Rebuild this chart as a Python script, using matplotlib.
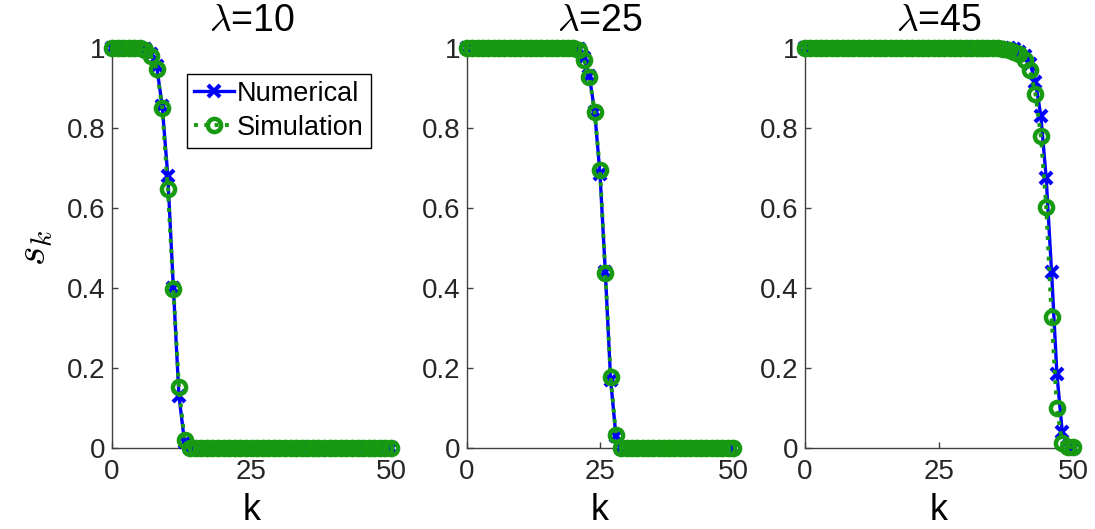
import numpy as np
import matplotlib
matplotlib.use('Agg')
import matplotlib.pyplot as plt

plt.rcParams['font.family'] = ['Liberation Sans', 'DejaVu Sans']
plt.rcParams['mathtext.fontset'] = 'cm'

# data
k = list(range(51))
lambdas = [10, 25, 45]

num_10 = [1.0] * 6 + [0.998, 0.985, 0.955, 0.855, 0.68, 0.40, 0.13, 0.015] + [0.0] * 37
sim_10 = [1.0] * 6 + [0.995, 0.98, 0.948, 0.85, 0.648, 0.398, 0.152, 0.02] + [0.0] * 37

num_25 = [1.0] * 21 + [0.997, 0.975, 0.93, 0.84, 0.685, 0.44, 0.17, 0.03] + [0.0] * 22
sim_25 = [1.0] * 21 + [0.995, 0.97, 0.928, 0.839, 0.695, 0.437, 0.178, 0.033] + [0.0] * 22

num_45 = [1.0] * 39 + [0.998, 0.99, 0.98, 0.96, 0.916, 0.83, 0.675, 0.44, 0.184, 0.04, 0.003, 0.0]
sim_45 = [1.0] * 37 + [0.998, 0.995, 0.99, 0.985, 0.97, 0.945, 0.884, 0.78, 0.603, 0.328,
                       0.099, 0.012, 0.003, 0.002]

numerical = [num_10, num_25, num_45]
simulation = [sim_10, sim_25, sim_45]

xticks = [0, 25, 50]
yticks = [0, 0.2, 0.4, 0.6, 0.8, 1.0]
ytick_labels = ['0', '0.2', '0.4', '0.6', '0.8', '1']

W, H = 1095, 529
fig = plt.figure(figsize=(W / 100, H / 100), dpi=100)

# axes boxes in pixels (left, right)
boxes = [(112, 391), (467, 733), (805, 1073)]
top_px, bot_px = 48, 448

blue = '#0000ff'
green = '#179a12'
axcol = '#404040'

for i, (l, r) in enumerate(boxes):
    ax = fig.add_axes([l / W, 1 - bot_px / H, (r - l) / W, (bot_px - top_px) / H])
    ax.plot(k, numerical[i], '-x', color=blue, lw=2.4, ms=8.5, mew=3, label='Numerical',
            clip_on=False, zorder=3)
    ax.plot(k, simulation[i], ':o', color=green, lw=2.8, ms=9.5, mew=3.2, mfc='none',
            label='Simulation', clip_on=False, zorder=4)
    ax.set_xlim(0, 50)
    ax.set_ylim(0, 1)
    ax.set_xticks(xticks)
    ax.set_yticks(yticks)
    ax.set_yticklabels(ytick_labels)
    for s in ['top', 'right']:
        ax.spines[s].set_visible(False)
    for s in ['left', 'bottom']:
        ax.spines[s].set_color(axcol)
        ax.spines[s].set_linewidth(1.0)
    ax.tick_params(direction='in', length=4, width=1, color=axcol, labelsize=20,
                   labelcolor='#262626')
    ax.tick_params(axis='x', pad=8)
    ax.tick_params(axis='y', pad=5)
    ax.set_xlabel('k', fontsize=26, labelpad=6, color='#000000')
    ax.set_title(r'$\lambda$=' + str(lambdas[i]), fontsize=27, pad=12)
    if i == 0:
        ax.set_ylabel(r'$s_k$', fontsize=30, labelpad=8)
        leg = ax.legend(loc='upper left', bbox_to_anchor=(0.269, 0.935), borderaxespad=0,
                        fontsize=19.5, fancybox=False, edgecolor='black', framealpha=1,
                        handlelength=1.5, handletextpad=0.1, borderpad=0.25,
                        labelspacing=0.3)
        leg.get_frame().set_linewidth(1.0)

fig.savefig('out.png', dpi=100)
